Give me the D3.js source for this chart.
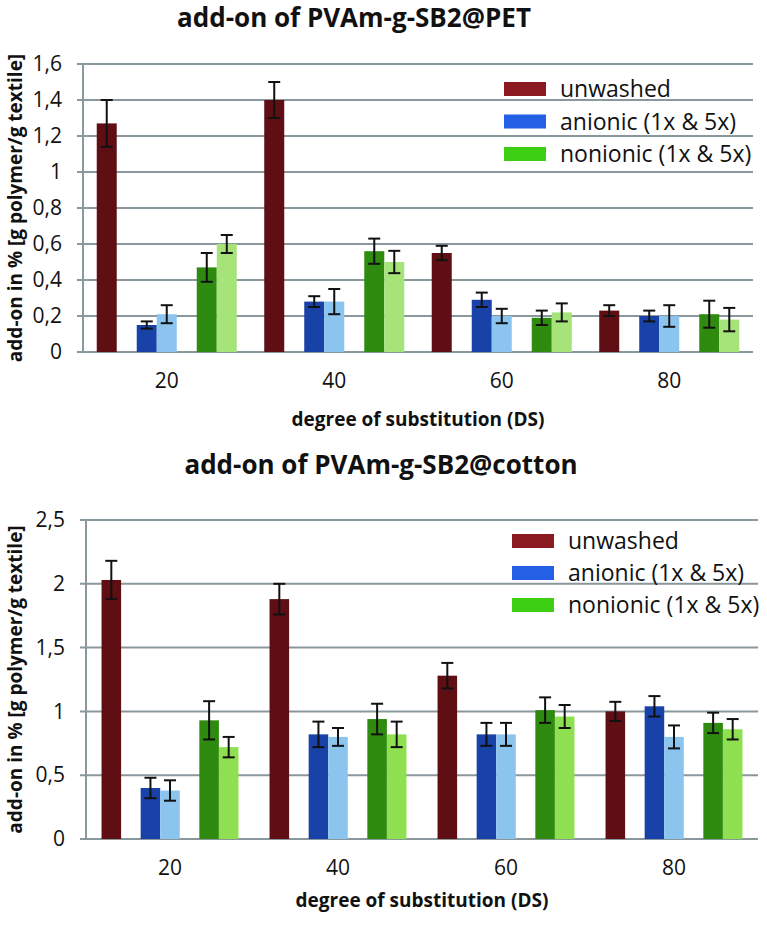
<!DOCTYPE html>
<html>
<head>
<meta charset="utf-8">
<script src="https://cdnjs.cloudflare.com/ajax/libs/d3/7.8.5/d3.min.js"></script>
<style>
  html, body { margin: 0; padding: 0; background: #fff; }
  svg { display: block; font-family: "Open Sans", sans-serif; }
</style>
</head>
<body>
<svg id="chart" width="767" height="925"></svg>
<script>
// ---------- data ----------
const categories = ["20", "40", "60", "80"];
const slots = ["unwashed", "gapA", "anionic1", "anionic5", "gapB", "nonionic1", "nonionic5"];
const barSeries = ["unwashed", "anionic1", "anionic5", "nonionic1", "nonionic5"];
const legendLabels = ["unwashed", "anionic (1x & 5x)", "nonionic (1x & 5x)"];

// PET panel
const petUnwashed     = [1.27, 1.40, 0.55, 0.23];
const petUnwashedErr  = [0.13, 0.10, 0.04, 0.03];
const petAnionic1     = [0.15, 0.28, 0.29, 0.20];
const petAnionic1Err  = [0.02, 0.03, 0.04, 0.03];
const petAnionic5     = [0.21, 0.28, 0.20, 0.20];
const petAnionic5Err  = [0.05, 0.07, 0.04, 0.06];
const petNonionic1    = [0.47, 0.56, 0.19, 0.21];
const petNonionic1Err = [0.08, 0.07, 0.04, 0.075];
const petNonionic5    = [0.60, 0.50, 0.22, 0.18];
const petNonionic5Err = [0.05, 0.062, 0.05, 0.065];
const petTicks = [0, 0.2, 0.4, 0.6, 0.8, 1, 1.2, 1.4, 1.6];

// cotton panel
const cotUnwashed     = [2.03, 1.88, 1.28, 1.00];
const cotUnwashedErr  = [0.15, 0.12, 0.10, 0.075];
const cotAnionic1     = [0.40, 0.82, 0.82, 1.04];
const cotAnionic1Err  = [0.08, 0.10, 0.09, 0.08];
const cotAnionic5     = [0.38, 0.80, 0.82, 0.80];
const cotAnionic5Err  = [0.08, 0.07, 0.09, 0.09];
const cotNonionic1    = [0.93, 0.94, 1.01, 0.91];
const cotNonionic1Err = [0.15, 0.12, 0.10, 0.08];
const cotNonionic5    = [0.72, 0.82, 0.96, 0.86];
const cotNonionic5Err = [0.08, 0.10, 0.09, 0.08];
const cotTicks = [0, 0.5, 1, 1.5, 2, 2.5];

// ---------- styles ----------
const gridColor = "#8a979c";
const legendColors = ["#8a1a1f", "#2360e6", "#3ccf14"];
const FONT = "'Open Sans', sans-serif";

const svg = d3.select("#chart");
svg.append("rect").attr("width", 767).attr("height", 925).attr("fill", "#fff");

const loc = d3.formatLocale({decimal: ",", thousands: ".", grouping: [3], currency: ["", ""]});
const fmt = loc.format("~g");

function drawPanel(o) {
  const g = svg.append("g");
  const x = d3.scaleBand().domain(categories).range([o.x0, o.x1])
    .paddingInner(o.pad).paddingOuter(o.pad / 2);
  const xs = d3.scaleBand().domain(slots).range([0, x.bandwidth()]);
  const y = d3.scaleLinear().domain([0, o.yMax]).range([o.y0, o.y1]);

  // title
  g.append("text").attr("x", o.titleX).attr("y", o.titleY)
    .attr("text-anchor", "middle").attr("font-weight", 700)
    .attr("font-size", 26).attr("fill", "#111").text(o.title);

  // grid lines
  g.append("g").selectAll("line").data(o.ticks).join("line")
    .attr("x1", o.x0 - 6).attr("x2", o.x1)
    .attr("y1", d => y(d)).attr("y2", d => y(d))
    .attr("stroke", gridColor).attr("stroke-width", 2);

  // y axis (labels)
  const yAxis = d3.axisLeft(y).tickValues(o.ticks).tickFormat(fmt)
    .tickSize(0).tickPadding(o.tickPad);
  const ya = g.append("g").attr("transform", `translate(${o.x0},0)`).call(yAxis);
  ya.select(".domain").remove();
  ya.selectAll("text").attr("font-size", 21).attr("fill", "#111")
    .attr("font-family", FONT);
  g.append("line").attr("x1", o.x0).attr("x2", o.x0)
    .attr("y1", y(o.yMax)).attr("y2", o.y0 + 1)
    .attr("stroke", gridColor).attr("stroke-width", 2);

  // y title
  g.append("text")
    .attr("transform", `translate(${o.yTitleX},${(o.y0 + o.y1) / 2}) rotate(-90)`)
    .attr("text-anchor", "middle").attr("font-weight", 700)
    .attr("font-size", 19).attr("fill", "#111")
    .text("add-on in % [g polymer/g textile]");

  // x axis labels
  const xAxis = d3.axisBottom(x).tickSize(0).tickPadding(o.xTickPad);
  const xa = g.append("g").attr("transform", `translate(0,${o.y0})`).call(xAxis);
  xa.select(".domain").remove();
  xa.selectAll("text").attr("font-size", 21).attr("fill", "#111")
    .attr("font-family", FONT);

  g.append("text").attr("x", (o.x0 + o.x1) / 2).attr("y", o.xTitleY)
    .attr("text-anchor", "middle").attr("font-weight", 700)
    .attr("font-size", 19).attr("fill", "#111")
    .text("degree of substitution (DS)");

  // bars
  const bars = [];
  barSeries.forEach((s, si) => {
    categories.forEach((c, ci) => {
      bars.push({cat: c, series: s, value: o.values[si][ci], err: o.errors[si][ci], color: o.colors[si]});
    });
  });
  const bw = xs.bandwidth();
  g.append("g").selectAll("rect").data(bars).join("rect")
    .attr("x", d => x(d.cat) + xs(d.series))
    .attr("width", bw)
    .attr("y", d => y(d.value))
    .attr("height", d => y(0) - y(d.value))
    .attr("fill", d => d.color);

  // error bars
  const eb = g.append("g").attr("stroke", "#111").attr("stroke-width", 2).attr("fill", "none");
  const cap = 6;
  bars.forEach(d => {
    const cx = x(d.cat) + xs(d.series) + bw / 2;
    const yt = y(d.value + d.err), yb = y(d.value - d.err);
    eb.append("line").attr("x1", cx).attr("x2", cx).attr("y1", yt).attr("y2", yb);
    eb.append("line").attr("x1", cx - cap).attr("x2", cx + cap).attr("y1", yt).attr("y2", yt);
    eb.append("line").attr("x1", cx - cap).attr("x2", cx + cap).attr("y1", yb).attr("y2", yb);
  });

  // legend
  const lg = g.append("g");
  legendLabels.forEach((lab, i) => {
    const ly = o.legY + i * o.legStep;
    lg.append("rect").attr("x", o.legX).attr("y", ly).attr("width", 42).attr("height", 14)
      .attr("fill", legendColors[i]);
    lg.append("text").attr("x", o.legX + 56).attr("y", ly + 15)
      .attr("font-size", 23).attr("fill", "#111").text(lab);
  });
}

drawPanel({
  title: "add-on of PVAm-g-SB2@PET", titleX: 354, titleY: 27,
  x0: 83, x1: 753, y0: 352, y1: 64, yMax: 1.6, ticks: petTicks, pad: 0.164,
  tickPad: 21, yTitleX: 22, xTickPad: 21, xTitleY: 426,
  values: [petUnwashed, petAnionic1, petAnionic5, petNonionic1, petNonionic5],
  errors: [petUnwashedErr, petAnionic1Err, petAnionic5Err, petNonionic1Err, petNonionic5Err],
  colors: ["#5f0f14", "#1842a8", "#8cc4f0", "#2f8a10", "#a6e47a"],
  legX: 504, legY: 82, legStep: 32.5
});

drawPanel({
  title: "add-on of PVAm-g-SB2@cotton", titleX: 381, titleY: 474,
  x0: 86, x1: 758, y0: 839, y1: 520, yMax: 2.5, ticks: cotTicks, pad: 0.185,
  tickPad: 21, yTitleX: 22, xTickPad: 21, xTitleY: 907,
  values: [cotUnwashed, cotAnionic1, cotAnionic5, cotNonionic1, cotNonionic5],
  errors: [cotUnwashedErr, cotAnionic1Err, cotAnionic5Err, cotNonionic1Err, cotNonionic5Err],
  colors: ["#5f0f14", "#1842a8", "#8cc4f0", "#2f8a10", "#8fe050"],
  legX: 512, legY: 534, legStep: 32
});
</script>
</body>
</html>
